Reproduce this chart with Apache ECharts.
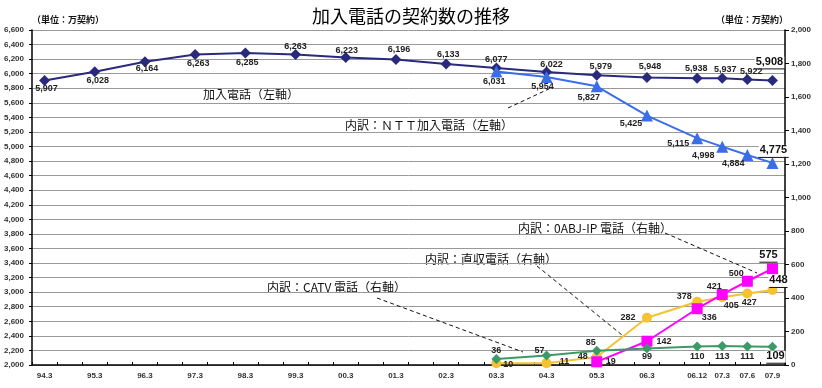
<!DOCTYPE html>
<html><head><meta charset="utf-8">
<script src="https://cdn.jsdelivr.net/npm/echarts@6/dist/echarts.min.js"></script>
<style>html,body{margin:0;padding:0;background:#fff}#c{width:822px;height:388px}</style>
</head><body><div id="c"></div>
<script>
// ---- data ----
const categories = ['94.3','','95.3','','96.3','','97.3','','98.3','','99.3','','00.3','','01.3','','02.3','','03.3','','04.3','','05.3','','06.3','','06.12','07.3','07.6','07.9'];
const dates = ['94.3','95.3','96.3','97.3','98.3','99.3','00.3','01.3','02.3','03.3','04.3','05.3','06.3','06.12','07.3','07.6','07.9'];
const kanyu    = [5907,6028,6164,6263,6285,6263,6223,6196,6133,6077,6022,5979,5948,5938,5937,5922,5908];
const ntt      = [null,null,null,null,null,null,null,null,null,6031,5954,5827,5425,5115,4998,4884,4775];
const chokushu = [null,null,null,null,null,null,null,null,null,10,11,48,282,378,405,427,448];
const ipPhone  = [null,null,null,null,null,null,null,null,null,null,null,19,142,336,421,500,575];
const catv     = [null,null,null,null,null,null,null,null,null,36,57,85,99,110,113,111,109];
const leftTicks = {min:2000, max:6600, interval:200};
const rightTicks = {min:0, max:2000, interval:200};

// ---- label offsets (style) ----
const offKanyu = [[2,8],[3,9],[2,7],[3,9],[2,10],[0,-8],[1,-7],[3,-10],[2,-9],[0,-9],[5,-8],[4,-9],[3,-11],[-1,-10],[3,-9],[4,-8],[-3,-18]];
const offNtt   = [null,null,null,null,null,null,null,null,null,[-2,10],[-4,9],[-8,11],[-16,8],[-19,5],[-19,9],[-14,9],[1,-12]];
const offChoku = [null,null,null,null,null,null,null,null,null,[12,1],[18,-2],[-14,0],[-19,0],[-13,-5],[9,8],[2,9],[6,-9]];
const offIp    = [null,null,null,null,null,null,null,null,null,null,null,[14,0],[17,0],[12,9],[-8,-8],[-11,-8],[-4,-13]];
const offCatv  = [null,null,null,null,null,null,null,null,null,[0,-8],[-7,-5],[-6,-8],[0,8],[0,10],[0,10],[0,10],[3,10]];

const fmt = v => Number(v).toLocaleString('en-US');
const lastIdx = categories.length - 1;

function build(vals, offs) {
  return categories.map(c => {
    if (!c) return null;
    const i = dates.indexOf(c);
    const v = vals[i];
    if (v == null) return null;
    const item = {value: v, label: {offset: offs[i]}};
    if (i === dates.length - 1) {
      item.label.backgroundColor = '#fff';
      item.label.padding = [0, 1, 1, 1];
    }
    return item;
  });
}

function mkSeries(name, vals, offs, color, symbol, size, yIdx) {
  return {
    name, type: 'line', yAxisIndex: yIdx, data: build(vals, offs),
    connectNulls: true, symbol, symbolSize: size,
    lineStyle: {color, width: 2}, itemStyle: {color},
    label: {
      show: true, position: 'inside', fontSize: 9, fontWeight: 'bold',
      fontFamily: 'Liberation Sans, Arial', color: '#222',
      formatter: p => p.dataIndex === lastIdx ? '{b|' + fmt(p.value) + '}' : fmt(p.value),
      rich: {
        b: {fontSize: 11, fontWeight: 'bold', fontFamily: 'Liberation Sans, Arial', color: '#111'}
      }
    },
    z: 3
  };
}

const chart = echarts.init(document.getElementById('c'), null, {renderer: 'canvas'});
const axisLabelStyle = {fontSize: 8, fontWeight: 'bold', color: '#333', fontFamily: 'Liberation Sans, Arial'};
const ann = (text, x, y, size, weight) => ({
  type: 'text', x, y, style: {text, fontSize: size, fontWeight: weight || 'normal', fill: '#111',
  fontFamily: 'Noto Sans CJK JP', textAlign: 'left', textVerticalAlign: 'middle'}
});
const dash = (x1, y1, x2, y2) => ({
  type: 'line', shape: {x1, y1, x2, y2}, style: {stroke: '#111', lineWidth: 1, lineDash: [4, 3]}, z: 2
});

const seriesDefs = [
  ['加入電話', kanyu, offKanyu, '#2a2a7c', 'diamond', 11, 0],
  ['NTT加入電話', ntt, offNtt, '#3a6de8', 'triangle', 12, 0],
  ['直収電話', chokushu, offChoku, '#f4c232', 'circle', 10, 1],
  ['0ABJ-IP電話', ipPhone, offIp, '#ff00ff', 'rect', 11, 1],
  ['CATV電話', catv, offCatv, '#3d9a68', 'diamond', 10, 1]
];

const baseGraphic = [
  {type: 'text', x: 411, y: 16, style: {text: '加入電話の契約数の推移', fontSize: 18, fill: '#000',
    fontFamily: 'Noto Sans CJK JP', textAlign: 'center', textVerticalAlign: 'middle'}},
  {type: 'text', x: 32, y: 20, style: {text: '（単位：万契約）', fontSize: 9, fontWeight: 'bold', fill: '#111',
    fontFamily: 'Noto Sans CJK JP', textAlign: 'left', textVerticalAlign: 'middle'}},
  {type: 'text', x: 716, y: 20, style: {text: '（単位：万契約）', fontSize: 9, fontWeight: 'bold', fill: '#111',
    fontFamily: 'Noto Sans CJK JP', textAlign: 'left', textVerticalAlign: 'middle'}},
  ann('加入電話（左軸）', 203, 94, 12),
  ann('内訳：ＮＴＴ加入電話（左軸）', 345, 125, 12),
  ann('内訳：0ABJ-IP 電話（右軸）', 518, 228, 12),
  ann('内訳：直収電話（右軸）', 425, 259, 12),
  ann('内訳：CATV 電話（右軸）', 267, 287, 12),
  dash(508, 108, 553, 87),
  dash(665, 233, 757, 273),
  dash(537, 266, 622, 335),
  dash(377, 298, 523, 352)
];

chart.setOption({
  animation: false,
  backgroundColor: '#fff',
  grid: {left: 32, right: 37, top: 30, bottom: 23},
  xAxis: {
    type: 'category', data: categories, boundaryGap: true,
    axisLine: {lineStyle: {color: '#000', width: 1.5}},
    axisTick: {show: true, interval: 0, inside: true, length: 3, lineStyle: {color: '#000'}},
    axisLabel: Object.assign({interval: 0, margin: 7}, axisLabelStyle),
    splitLine: {show: false}
  },
  yAxis: [
    {type: 'value', position: 'left', min: leftTicks.min, max: leftTicks.max, interval: leftTicks.interval,
     axisLine: {show: true, lineStyle: {color: '#000', width: 1.5}},
     axisTick: {show: true, length: 3, lineStyle: {color: '#000'}},
     axisLabel: Object.assign({margin: 8, formatter: v => fmt(v)}, axisLabelStyle),
     splitLine: {show: true, lineStyle: {color: '#999', width: 1}}},
    {type: 'value', position: 'right', min: rightTicks.min, max: rightTicks.max, interval: rightTicks.interval,
     axisLine: {show: true, lineStyle: {color: '#000', width: 1.5}},
     axisTick: {show: true, length: 4, lineStyle: {color: '#000'}},
     axisLabel: Object.assign({margin: 6, formatter: v => fmt(v)}, axisLabelStyle),
     splitLine: {show: false}}
  ],
  series: seriesDefs.map(d => mkSeries.apply(null, d)),
  graphic: baseGraphic
});

// underlines below the final (bold) values, positioned via the chart's own scales
const underlines = seriesDefs.map(d => {
  const vals = d[1], offs = d[2], yIdx = d[6];
  const v = vals[vals.length - 1], o = offs[offs.length - 1];
  const p = chart.convertToPixel({xAxisIndex: 0, yAxisIndex: yIdx}, [lastIdx, v]);
  const half = String(fmt(v)).length * 3.05;
  const cx = p[0] + o[0], cy = p[1] + o[1] + 6.5;
  return {type: 'line', shape: {x1: cx - half, y1: cy, x2: cx + half, y2: cy},
          style: {stroke: '#111', lineWidth: 1}, z: 10};
});
chart.setOption({graphic: baseGraphic.concat(underlines)});
</script>
</body></html>
